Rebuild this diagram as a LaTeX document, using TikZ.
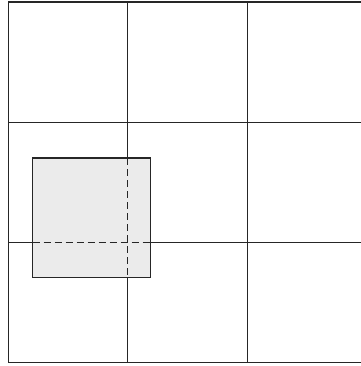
\documentclass[tikz,border=0pt]{standalone}
\begin{document}
\begin{tikzpicture}[x=1pt,y=-1pt,
  gridline/.style={line width=1.6pt,draw=black!85},
  hidden/.style={line width=1.6pt,draw=black!85,dash pattern=on 7pt off 4pt}]
\useasboundingbox (0,0) rectangle (360,366);
% grid (right border lies beyond the image)
\draw[gridline] (8.5,362.5) -- (8.5,2) -- (367,2);
\draw[gridline] (8.5,362.5) -- (367,362.5);
\draw[gridline] (127.5,2) -- (127.5,362.5);
\draw[gridline] (247.5,2) -- (247.5,362.5);
\draw[gridline] (8.5,122.5) -- (367,122.5);
\draw[gridline] (8.5,242.5) -- (367,242.5);
% shaded square on top
\fill[black!8] (32.5,158) rectangle (150.5,277.5);
\draw[line width=1.5pt,draw=black!85] (32.5,158) rectangle (150.5,277.5);
% hidden grid lines beneath the square
\draw[hidden] (127.5,158) -- (127.5,277.5);
\draw[hidden] (32.5,242.5) -- (150.5,242.5);
\end{tikzpicture}
\end{document}
